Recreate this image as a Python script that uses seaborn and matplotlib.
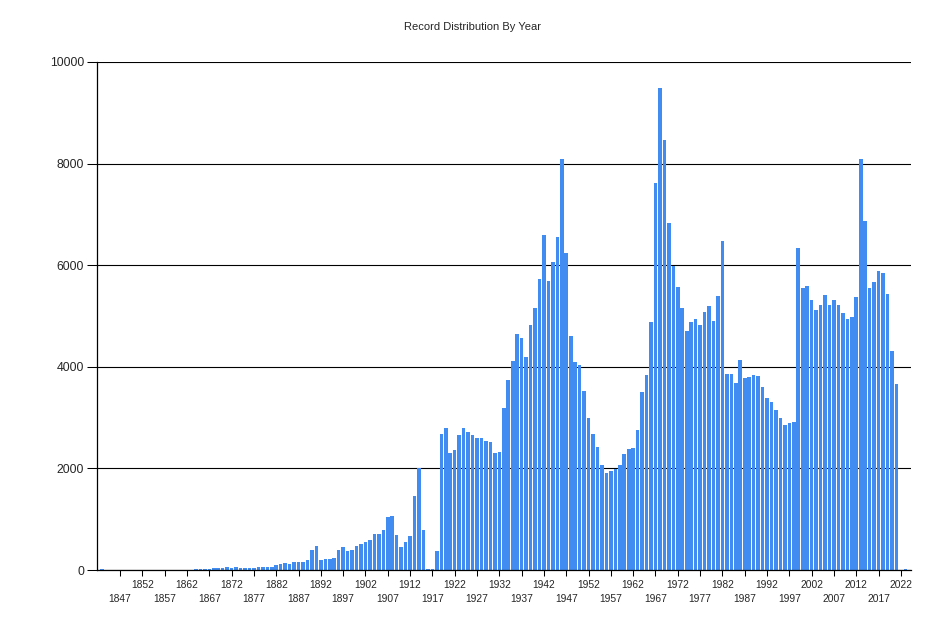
import numpy as np
import pandas as pd
import matplotlib
matplotlib.use("Agg")
import matplotlib.pyplot as plt
import seaborn as sns

# record counts per year
first_year = 1843
last_year = 2023
counts = (
    [20] + [0] * 20 +                                   # 1843-1863
    [15, 15, 15, 20, 35, 39, 39, 59, 39, 59,            # 1864-1873
     39, 39, 39, 39, 59, 59, 59, 59, 98, 120,           # 1874-1883
     138, 118, 157, 157, 157, 197, 394, 472, 197, 216,  # 1884-1893
     216, 236, 394, 453, 374, 394, 472, 512, 551, 591,  # 1894-1903
     709, 709, 787, 1043, 1063, 689, 453, 551, 669, 1457,  # 1904-1913
     2008, 787, 15, 15, 378, 2677, 2795, 2303, 2362, 2657,  # 1914-1923
     2795, 2716, 2657, 2598, 2598, 2539, 2520, 2303, 2323, 3189,  # 1924-1933
     3740, 4114, 4646, 4567, 4193, 4823, 5157, 5728, 6594, 5689,  # 1934-1943
     6063, 6555, 8091, 6240, 4606, 4094, 4035, 3524, 2992, 2677,  # 1944-1953
     2421, 2067, 1909, 1949, 1988, 2067, 2283, 2382, 2402, 2756,  # 1954-1963
     3504, 3839, 4882, 7618, 9488, 8465, 6831, 5984, 5571, 5157,  # 1964-1973
     4705, 4882, 4941, 4823, 5079, 5197, 4902, 5394, 6476, 3852,  # 1974-1983
     3852, 3681, 4134, 3780, 3799, 3839, 3819, 3602, 3386, 3307,  # 1984-1993
     3150, 2992, 2854, 2894, 2913, 6338, 5551, 5591, 5315, 5118,  # 1994-2003
     5217, 5413, 5217, 5315, 5217, 5059, 4941, 4980, 5374, 8091,  # 2004-2013
     6870, 5551, 5669, 5886, 5846, 5433, 4311, 3661, 0, 20]       # 2014-2023
)
years = list(range(first_year, last_year + 1))
assert len(years) == len(counts)

upper_labels = list(range(1852, 2023, 10))
lower_labels = list(range(1847, 2018, 10))

bar_color = "#418CF0"

df = pd.DataFrame({"year": years, "records": counts})

sns.set_style("white")
plt.rcParams["font.family"] = ["Liberation Sans", "DejaVu Sans"]

fig = plt.figure(figsize=(9.45, 6.3), dpi=100)
ax = fig.add_axes([0.103, 0.0952, 0.8607, 0.8064])

sns.barplot(data=df, x="year", y="records", native_scale=True,
            color=bar_color, saturation=1, width=0.8, errorbar=None,
            linewidth=0, ax=ax)

ax.set_xlim(1841.9, 2024.2)
ax.set_ylim(0, 10000)
ax.set_xlabel("")
ax.set_ylabel("")

# y axis
ax.set_yticks(range(0, 10001, 2000))
ax.set_yticklabels([str(v) for v in range(0, 10001, 2000)], fontsize=8.8)
ax.tick_params(axis="y", which="major", length=7.2, width=0.75, pad=2.4,
               direction="out", left=True, color="black")
ax.yaxis.grid(True, color="black", linewidth=0.8)
ax.set_axisbelow(True)

# x axis, staggered labels
ax.set_xticks(upper_labels)
ax.set_xticklabels([str(y) for y in upper_labels], fontsize=7.4)
ax.set_xticks(lower_labels, minor=True)
ax.set_xticklabels([str(y) for y in lower_labels], minor=True, fontsize=7.4)
ax.tick_params(axis="x", which="major", length=4.5, width=0.75, pad=2.4,
               direction="out", bottom=True, color="black")
ax.tick_params(axis="x", which="minor", length=4.5, width=0.75, pad=12.8,
               direction="out", bottom=True, color="black")

for side in ["top", "right"]:
    ax.spines[side].set_visible(False)
for side in ["left", "bottom"]:
    ax.spines[side].set_color("black")
    ax.spines[side].set_linewidth(0.9)

fig.text(0.4995, 1 - 27 / 630, "Record Distribution By Year",
         ha="center", va="center", fontsize=8)

fig.savefig("out.png", dpi=100, facecolor="white")
